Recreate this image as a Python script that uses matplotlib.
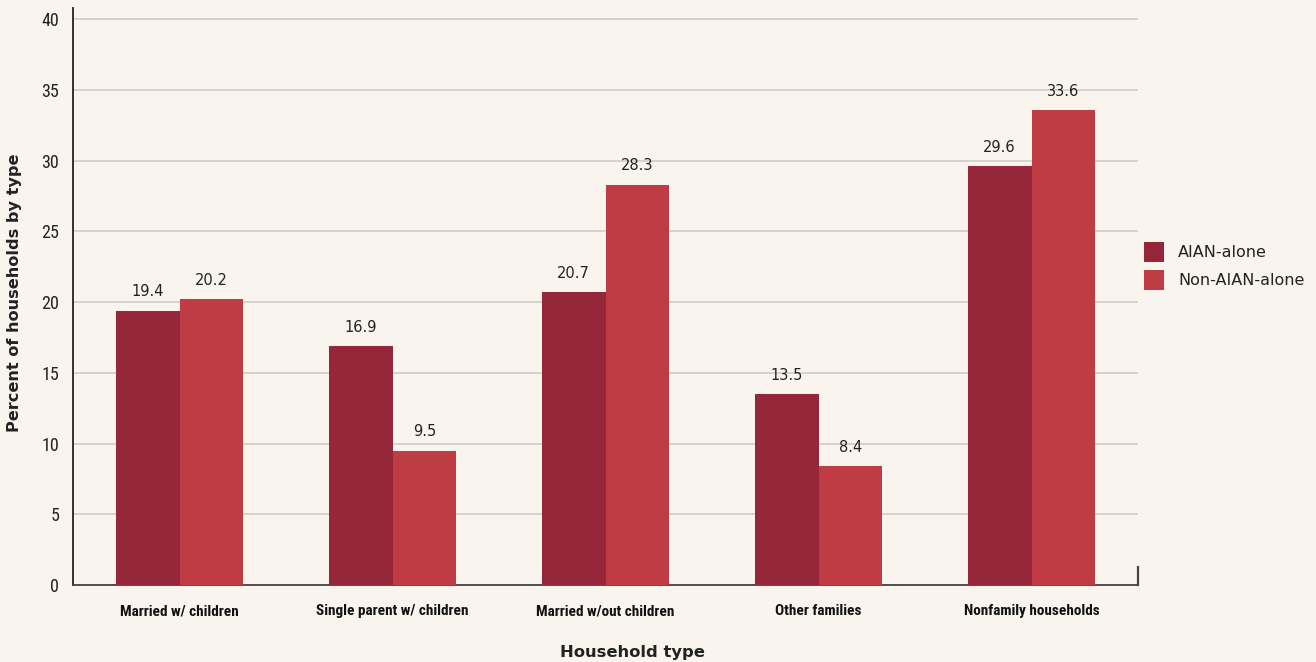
import matplotlib.pyplot as plt
import numpy as np

categories = ['Married w/ children', 'Single parent w/ children',
              'Married w/out children', 'Other families', 'Nonfamily households']
aian = [19.4, 16.9, 20.7, 13.5, 29.6]
non_aian = [20.2, 9.5, 28.3, 8.4, 33.6]
series_names = ['AIAN-alone', 'Non-AIAN-alone']
yticks = [0, 5, 10, 15, 20, 25, 30, 35, 40]

bg = '#f9f5ee'
c_aian = '#96263a'
c_non = '#c03c45'
narrow = ['Roboto Condensed', 'Noto Sans Condensed', 'DejaVu Sans']

fig = plt.figure(figsize=(13.16, 6.62), dpi=100, facecolor=bg)
ax = fig.add_axes([73 / 1316, 1 - 585 / 662, (1138 - 73) / 1316, 577 / 662])
ax.set_facecolor(bg)

x = np.arange(len(categories))
w = 0.3
b1 = ax.bar(x - w / 2, aian, w, color=c_aian, label=series_names[0], zorder=3)
b2 = ax.bar(x + w / 2, non_aian, w, color=c_non, label=series_names[1], zorder=3)

for bars, vals in ((b1, aian), (b2, non_aian)):
    for r, v in zip(bars, vals):
        ax.text(r.get_x() + r.get_width() / 2, v + 0.8, f'{v:.1f}',
                ha='center', va='bottom', fontsize=10.5, color='#222222',
                family='DejaVu Sans')

ax.set_xlim(-0.5, 4.5)
ax.set_ylim(0, 40.8)
ax.set_yticks(yticks)
ax.set_yticklabels([str(t) for t in yticks], family=narrow,
                   stretch='condensed', fontsize=13, color='#222222')
ax.set_xticks(x)
ax.set_xticklabels(categories, family=narrow, stretch='condensed',
                   fontsize=11, fontweight='bold', color='#111111')
ax.tick_params(axis='both', length=0)
ax.tick_params(axis='y', pad=10)
ax.tick_params(axis='x', pad=14)
ax.grid(axis='y', color='#d3cfc9', linewidth=1.3, zorder=0)

for s in ('top', 'right'):
    ax.spines[s].set_visible(False)
ax.spines['left'].set_color('#222222')
ax.spines['bottom'].set_color('#444444')
ax.spines['left'].set_linewidth(1.3)
ax.spines['bottom'].set_linewidth(1.3)
ax.plot([1, 1], [0, 0.031], transform=ax.transAxes, color='#444444',
        linewidth=1.6, clip_on=False, zorder=4)

fig.text(15 / 1316, 1 - 293 / 662, 'Percent of households by type', rotation=90,
         ha='center', va='center', fontsize=11.6, fontweight='bold',
         color='#222222', family='DejaVu Sans')
fig.text(632 / 1316, 1 - 652 / 662, 'Household type', ha='center', va='center',
         fontsize=11.8, fontweight='bold', color='#222222', family='DejaVu Sans')

leg = fig.legend(loc='center left', bbox_to_anchor=(1130 / 1316, 1 - 266 / 662),
                 frameon=False, handlelength=1.2, handleheight=1.5,
                 handletextpad=0.9, labelspacing=0.55,
                 prop={'family': 'DejaVu Sans', 'size': 11.5})
for t in leg.get_texts():
    t.set_color('#222222')

fig.savefig('out.png', dpi=100, facecolor=bg)
